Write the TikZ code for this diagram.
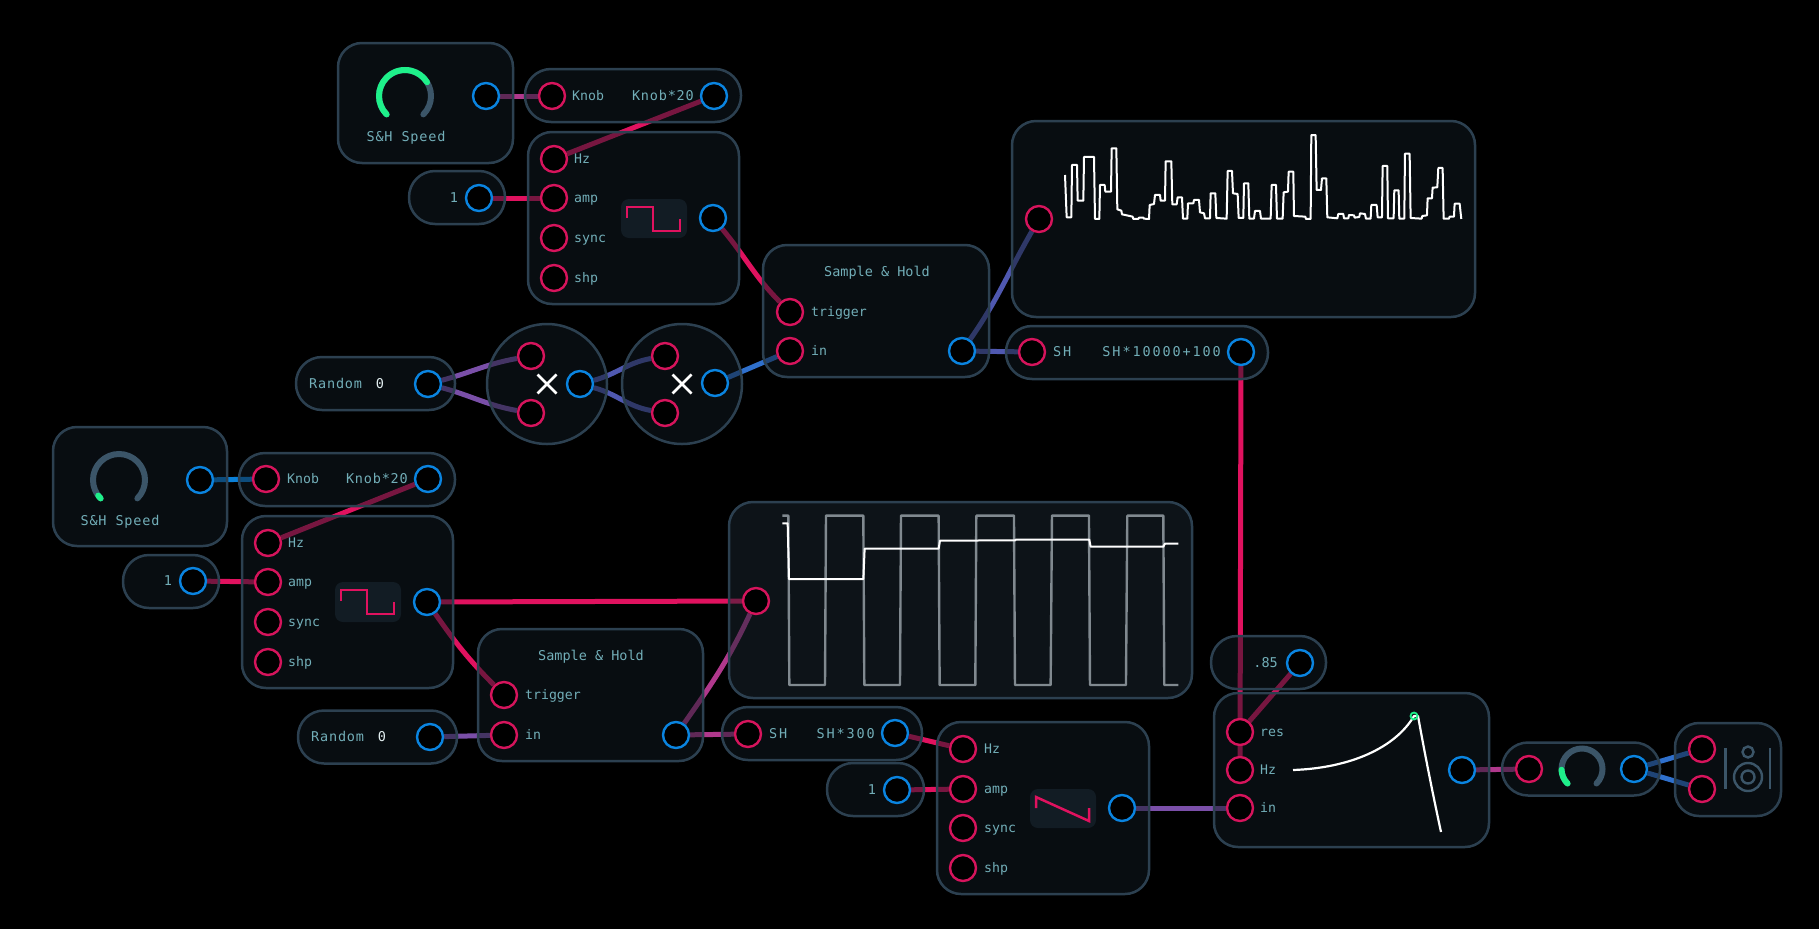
\documentclass[tikz,border=0pt]{standalone}
\usepackage{fontspec}
\newfontfamily\modfont{DejaVu Sans Mono}
\newfontfamily\modwide[LetterSpace=6]{DejaVu Sans Mono}
\newfontfamily\modwider[LetterSpace=14]{DejaVu Sans Mono}
\definecolor{edge}{HTML}{2C4050}
\definecolor{panel}{HTML}{101A22}
\definecolor{panelb}{HTML}{1A2630}
\definecolor{iconfill}{HTML}{121C24}
\definecolor{inred}{HTML}{D6145C}
\definecolor{outblue}{HTML}{0A84E0}
\definecolor{txt}{HTML}{72AEB8}
\definecolor{track}{HTML}{3B5568}
\definecolor{knobgreen}{HTML}{1EF08A}
\definecolor{pinkw}{HTML}{E0125F}
\definecolor{magw}{HTML}{B0388C}
\definecolor{purw}{HTML}{7A4FA8}
\definecolor{indw}{HTML}{4F58B0}
\definecolor{bluew}{HTML}{2F70CC}
\definecolor{skyw}{HTML}{0A80D8}
\definecolor{grayw}{HTML}{80898F}
\pgfdeclarelayer{wires}
\pgfsetlayers{wires,main}
\tikzset{
  modbox/.style={draw=edge,line width=2.5pt,fill=panel,fill opacity=.5,rounded corners=24pt,inner sep=0pt},
  pill/.style={modbox,rounded corners=26pt,minimum height=53pt},
  mulcirc/.style={draw=edge,line width=2.5pt,fill=panel,fill opacity=.5,circle,minimum size=120pt,inner sep=0pt},
  inport/.style={circle,draw=inred,line width=2.4pt,fill=black,minimum size=26pt,inner sep=0pt},
  outport/.style={inport,draw=outblue},
  lbl/.style={text=txt,inner sep=0pt,text height=9pt,text depth=0pt,font=\fontsize{13.2}{15}\selectfont\modfont},
  ttl/.style={lbl,font=\fontsize{13.5}{15}\selectfont\modwide},
  ttlb/.style={lbl,font=\fontsize{13.5}{15}\selectfont\modfont},
  expr/.style={lbl,font=\fontsize{13.5}{15}\selectfont\modwider},
  wire/.style={line width=5pt,draw=#1},
  knobtrack/.style={draw=track,line width=6pt,line cap=round},
  knobval/.style={draw=knobgreen,line width=6pt,line cap=round},
  trace/.style={draw=white,line width=2pt,line join=round},
  icon/.style={draw=pinkw,line width=2.5pt,line join=miter},
  iconbg/.style={fill=iconfill,rounded corners=8pt},
  spk/.style={draw=track,line width=2.4pt}
}
\begin{document}
\begin{tikzpicture}[x=1pt,y=-1pt]
  \begin{pgfonlayer}{wires}
    \path[use as bounding box,fill=black] (0,0) rectangle (1819,929);
  \end{pgfonlayer}
  % boxes
  \node[modbox,minimum width=175pt,minimum height=120pt] (knobA) at (425.5,103) {};
  \node[pill,minimum width=216pt] (exprA) at (633,95.5) {};
  \node[modbox,minimum width=211pt,minimum height=172pt] (oscA) at (633.5,218) {};
  \node[pill,minimum width=96pt] (constA) at (457,197.5) {};
  \node[pill,minimum width=159pt] (randA) at (375.5,383.5) {};
  \node[mulcirc] (mulA) at (547,384) {};
  \node[mulcirc] (mulB) at (682,384) {};
  \node[modbox,minimum width=226pt,minimum height=132pt] (shA) at (876,311) {};
  \node[modbox,minimum width=463pt,minimum height=196pt] (scopeA) at (1243.5,219) {};
  \node[pill,minimum width=262pt] (exprB) at (1137,352.5) {};
  \node[modbox,minimum width=174pt,minimum height=119pt] (knobB) at (140,486.5) {};
  \node[pill,minimum width=216pt] (exprC) at (347,479.5) {};
  \node[modbox,minimum width=211pt,minimum height=172pt] (oscB) at (347.5,602) {};
  \node[pill,minimum width=96pt] (constB) at (171,581.5) {};
  \node[pill,minimum width=159pt] (randB) at (377.5,737) {};
  \node[modbox,minimum width=225pt,minimum height=132pt] (shB) at (590.5,695) {};
  \node[modbox,minimum width=463pt,minimum height=196pt,fill=panelb] (scopeB) at (960.5,600) {};
  \node[pill,minimum width=200pt] (exprD) at (822,733.5) {};
  \node[modbox,minimum width=212pt,minimum height=172pt] (oscC) at (1043,808) {};
  \node[pill,minimum width=97pt] (constC) at (875.5,789.5) {};
  \node[pill,minimum width=115pt] (constD) at (1268.5,662.5) {};
  \node[modbox,minimum width=275pt,minimum height=154pt] (filt) at (1351.5,770) {};
  \node[pill,minimum width=158pt] (gain) at (1581,769) {};
  \node[modbox,minimum width=106pt,minimum height=93pt] (spkr) at (1728,769.5) {};
  % ports
  \node[outport] (knobAout) at (486,96) {};
  \node[inport] (exprAin) at (552,96) {};
  \node[outport] (exprAout) at (714,96) {};
  \node[inport] (oscAhz) at (554,159) {};
  \node[inport] (oscAamp) at (554,198) {};
  \node[inport] (oscAsync) at (554,238) {};
  \node[inport] (oscAshp) at (554,278) {};
  \node[outport] (oscAout) at (713,218) {};
  \node[outport] (constAout) at (479,198) {};
  \node[outport] (randAout) at (428,384) {};
  \node[inport] (mulAa) at (531,356) {};
  \node[inport] (mulAb) at (531,413) {};
  \node[outport] (mulAout) at (580,384) {};
  \node[inport] (mulBa) at (665,356) {};
  \node[inport] (mulBb) at (665,413) {};
  \node[outport] (mulBout) at (715,383) {};
  \node[inport] (shAtrig) at (790,312) {};
  \node[inport] (shAin) at (790,351) {};
  \node[outport] (shAout) at (962,351) {};
  \node[inport] (scopeAin) at (1039,219) {};
  \node[inport] (exprBin) at (1032,352) {};
  \node[outport] (exprBout) at (1241,352) {};
  \node[outport] (knobBout) at (200,480) {};
  \node[inport] (exprCin) at (266,479) {};
  \node[outport] (exprCout) at (428,479) {};
  \node[inport] (oscBhz) at (268,543) {};
  \node[inport] (oscBamp) at (268,582) {};
  \node[inport] (oscBsync) at (268,622) {};
  \node[inport] (oscBshp) at (268,662) {};
  \node[outport] (oscBout) at (427,602) {};
  \node[outport] (constBout) at (193,581) {};
  \node[outport] (randBout) at (430,737) {};
  \node[inport] (shBtrig) at (504,695) {};
  \node[inport] (shBin) at (504,735) {};
  \node[outport] (shBout) at (676,735) {};
  \node[inport] (scopeBin) at (756,601) {};
  \node[inport] (exprDin) at (748,734) {};
  \node[outport] (exprDout) at (895,733) {};
  \node[inport] (oscChz) at (963,749) {};
  \node[inport] (oscCamp) at (963,789) {};
  \node[inport] (oscCsync) at (963,828) {};
  \node[inport] (oscCshp) at (963,868) {};
  \node[outport] (oscCout) at (1122,808) {};
  \node[outport] (constCout) at (897,790) {};
  \node[outport] (constDout) at (1300,663) {};
  \node[inport] (filtres) at (1240,732) {};
  \node[inport] (filthz) at (1240,770) {};
  \node[inport] (filtin) at (1240,808) {};
  \node[outport] (filtout) at (1462,770) {};
  \node[inport] (gainin) at (1529,769) {};
  \node[outport] (gainout) at (1634,769) {};
  \node[inport] (spkrl) at (1702,749) {};
  \node[inport] (spkrr) at (1702,789) {};
  % wires, under the boxes
  \begin{pgfonlayer}{wires}
    \draw[wire=magw] (knobAout) -- (exprAin);
    \draw[wire=pinkw] (exprAout) -- (oscAhz);
    \draw[wire=pinkw] (constAout) -- (oscAamp);
    \draw[wire=pinkw] (oscAout) to[out=-50,in=135] (shAtrig);
    \draw[wire=purw] (randAout) to[out=15,in=190] (mulAa);
    \draw[wire=purw] (randAout) to[out=-15,in=170] (mulAb);
    \draw[wire=indw] (mulAout) to[out=15,in=190] (mulBa);
    \draw[wire=indw] (mulAout) to[out=-15,in=170] (mulBb);
    \draw[wire=bluew] (mulBout) -- (shAin);
    \draw[wire=indw] (shAout) to[out=55,in=240] (scopeAin);
    \draw[wire=indw] (shAout) -- (exprBin);
    \draw[wire=pinkw] (exprBout) -- (filthz);
    \draw[wire=skyw] (knobBout) -- (exprCin);
    \draw[wire=pinkw] (exprCout) -- (oscBhz);
    \draw[wire=pinkw] (constBout) -- (oscBamp);
    \draw[wire=pinkw] (oscBout) -- (scopeBin);
    \draw[wire=pinkw] (oscBout) to[out=-55,in=135] (shBtrig);
    \draw[wire=purw] (randBout) -- (shBin);
    \draw[wire=magw] (shBout) to[out=55,in=245] (scopeBin);
    \draw[wire=magw] (shBout) -- (exprDin);
    \draw[wire=pinkw] (exprDout) -- (oscChz);
    \draw[wire=pinkw] (constCout) -- (oscCamp);
    \draw[wire=purw] (oscCout) -- (filtin);
    \draw[wire=pinkw] (constDout) -- (filtres);
    \draw[wire=magw] (filtout) -- (gainin);
    \draw[wire=bluew] (gainout) -- (spkrl);
    \draw[wire=bluew] (gainout) -- (spkrr);
  \end{pgfonlayer}
  % knobs
  \draw[knobtrack] (405,96) ++(225:26pt) arc[start angle=225,end angle=-45,radius=26pt];
  \draw[knobval] (405,96) ++(225:26pt) arc[start angle=225,end angle=32,radius=26pt];
  \draw[knobtrack] (119,480) ++(225:26pt) arc[start angle=225,end angle=-45,radius=26pt];
  \draw[knobval] (119,480) ++(225:26pt) arc[start angle=225,end angle=217,radius=26pt];
  \draw[knobtrack] (1582,769) ++(225:20.5pt) arc[start angle=225,end angle=-45,radius=20.5pt];
  \draw[knobval] (1582,769) ++(225:20.5pt) arc[start angle=225,end angle=182,radius=20.5pt];
  % wave icons
  \path[iconbg] (621,199) rectangle (687,238);
  \draw[icon] (627,218) -- (627,207) -- (653,207) -- (653,231) -- (680,231) -- (680,219);
  \path[iconbg] (335,582) rectangle (401,622);
  \draw[icon] (341,601) -- (341,590) -- (367,590) -- (367,614) -- (394,614) -- (394,602);
  \path[iconbg] (1030,789) rectangle (1096,828);
  \draw[icon] (1036,808) -- (1036,797) -- (1089,821) -- (1089,808);
  % multiply signs
  \draw[line width=2.6pt,white] (537.5,374.5) -- (556.5,393.5) (537.5,393.5) -- (556.5,374.5);
  \draw[line width=2.6pt,white] (672.5,374.5) -- (691.5,393.5) (672.5,393.5) -- (691.5,374.5);
  % scope traces
  \begin{scope}[shift={(1000,110)},x=.3333pt,y=-.3333pt]
    \draw[trace] plot coordinates {(195,195)(200,322)(214,322)(216,165)(231,165)(233,272)(250,272)(252,141)(282,141)(285,327)(298,327)(300,225)(314,225)(316,245)(333,245)(335,115)(349,115)(352,298)(364,302)(366,313)(380,316)(398,320)(400,327)(415,327)(417,323)(430,323)(432,326)(447,327)(449,285)(462,282)(465,255)(480,255)(482,272)(495,272)(497,154)(514,154)(517,283)(530,283)(533,262)(546,262)(549,326)(562,326)(564,280)(580,280)(582,270)(597,270)(600,307)(612,310)(615,325)(630,325)(632,250)(646,250)(649,324)(680,326)(683,183)(696,183)(699,250)(713,252)(716,324)(730,324)(732,220)(745,220)(748,326)(762,326)(765,303)(780,303)(783,326)(812,326)(815,225)(828,225)(831,326)(848,326)(851,247)(864,245)(866,185)(880,185)(882,318)(916,320)(918,327)(932,327)(934,75)(947,75)(950,240)(963,240)(966,205)(979,205)(982,322)(1012,325)(1015,312)(1030,312)(1032,325)(1045,325)(1047,315)(1062,316)(1064,323)(1078,321)(1080,310)(1095,312)(1098,326)(1112,326)(1114,285)(1130,285)(1133,322)(1146,322)(1148,168)(1162,168)(1164,325)(1181,325)(1183,241)(1196,241)(1198,326)(1213,326)(1215,131)(1229,131)(1232,324)(1265,326)(1267,318)(1281,316)(1283,265)(1296,265)(1298,233)(1312,232)(1315,174)(1328,174)(1331,326)(1347,326)(1349,320)(1362,320)(1364,281)(1379,281)(1384,327)};
  \end{scope}
  \begin{scope}[shift={(720,495)},x=.3333pt,y=-.3333pt]
    \draw[trace,draw=grayw,line width=2.4pt] plot coordinates {(187,62)(205,62)(208,570)(315,570)(318,62)(430,62)(433,570)(540,570)(543,62)(656,62)(659,570)(766,570)(769,62)(882,62)(885,570)(992,570)(996,62)(1107,62)(1110,570)(1218,570)(1222,62)(1330,62)(1333,570)(1375,570)};
    \draw[trace] plot coordinates {(187,85)(203,85)(207,252)(430,252)(434,161)(656,161)(660,137)(885,136)(888,134)(1108,134)(1112,155)(1330,155)(1335,146)(1375,146)};
  \end{scope}
  % filter curve
  \draw[trace,line width=2.2pt] (1293,770) .. controls (1350,768) and (1395,748) .. (1414,716) -- (1418,716) .. controls (1425,755) and (1433,795) .. (1441,832);
  \draw[knobgreen,line width=1.8pt] (1414,716) circle[radius=3.5pt];
  % speaker
  \draw[spk] (1725.5,748) -- (1725.5,789) (1770,748) -- (1770,789);
  \draw[spk] (1748,752) circle[radius=5.5pt] (1748,777) circle[radius=14pt] (1748,777) circle[radius=6.5pt];
  % texts
  \node[ttl] (knobAname) at (406,137) {S\&H Speed};
  \node[lbl,anchor=west] (exprAa) at (572,96) {Knob};
  \node[ttl,anchor=east] (exprAb) at (694,96) {Knob*20};
  \node[lbl,anchor=west] (oscAhzl) at (574,159) {Hz};
  \node[lbl,anchor=west] (oscAampl) at (574,198) {amp};
  \node[lbl,anchor=west] (oscAsyncl) at (574,238) {sync};
  \node[lbl,anchor=west] (oscAshpl) at (574,278) {shp};
  \node[ttlb] (constAval) at (454,198) {1};
  \node[ttl,anchor=west] (randAname) at (309,384) {Random};
  \node[ttlb,text=white!80!txt] (randAval) at (380,384) {0};
  \node[ttlb] (shAname) at (877,272) {Sample \& Hold};
  \node[lbl,anchor=west] (shAtrigl) at (811,312) {trigger};
  \node[lbl,anchor=west] (shAinl) at (811,351) {in};
  \node[expr,anchor=west] (exprBa) at (1053,352) {SH};
  \node[expr,anchor=east] (exprBb) at (1221,352) {SH*10000+100};
  \node[ttl] (knobBname) at (120,521) {S\&H Speed};
  \node[lbl,anchor=west] (exprCa) at (287,479) {Knob};
  \node[ttl,anchor=east] (exprCb) at (408,479) {Knob*20};
  \node[lbl,anchor=west] (oscBhzl) at (288,543) {Hz};
  \node[lbl,anchor=west] (oscBampl) at (288,582) {amp};
  \node[lbl,anchor=west] (oscBsyncl) at (288,622) {sync};
  \node[lbl,anchor=west] (oscBshpl) at (288,662) {shp};
  \node[ttlb] (constBval) at (168,581) {1};
  \node[ttl,anchor=west] (randBname) at (311,737) {Random};
  \node[ttlb,text=white!80!txt] (randBval) at (382,737) {0};
  \node[ttlb] (shBname) at (591,656) {Sample \& Hold};
  \node[lbl,anchor=west] (shBtrigl) at (525,695) {trigger};
  \node[lbl,anchor=west] (shBinl) at (525,735) {in};
  \node[expr,anchor=west] (exprDa) at (769,734) {SH};
  \node[expr,anchor=east] (exprDb) at (875,734) {SH*300};
  \node[lbl,anchor=west] (oscChzl) at (984,749) {Hz};
  \node[lbl,anchor=west] (oscCampl) at (984,789) {amp};
  \node[lbl,anchor=west] (oscCsyncl) at (984,828) {sync};
  \node[lbl,anchor=west] (oscCshpl) at (984,868) {shp};
  \node[ttlb] (constCval) at (872,790) {1};
  \node[ttlb,anchor=east] (constDval) at (1278,663) {.85};
  \node[lbl,anchor=west] (filtresl) at (1260,732) {res};
  \node[lbl,anchor=west] (filthzl) at (1260,770) {Hz};
  \node[lbl,anchor=west] (filtinl) at (1260,808) {in};
\end{tikzpicture}
\end{document}
